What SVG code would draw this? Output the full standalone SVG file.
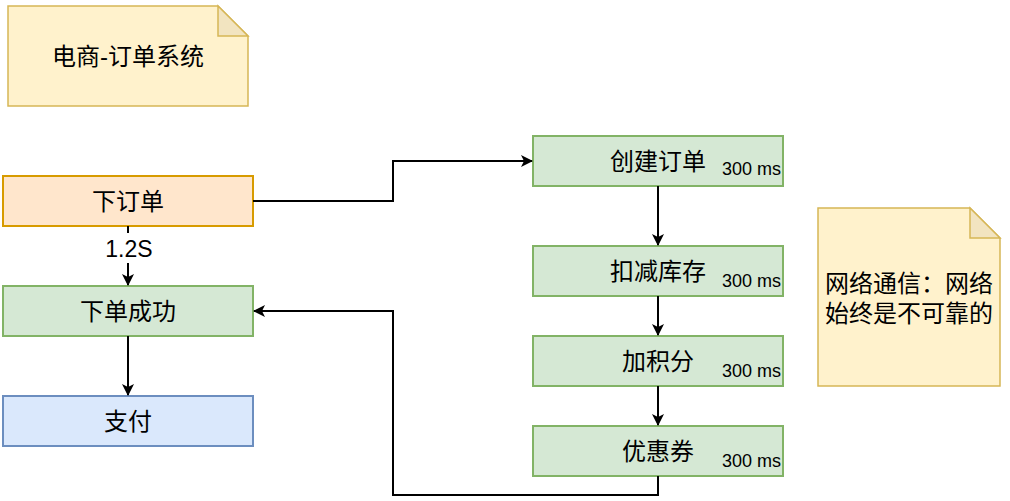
<svg xmlns="http://www.w3.org/2000/svg" width="1010" height="501" viewBox="0 0 1010 501">
<style>
text{font-family:"Liberation Sans","Noto Sans CJK SC",sans-serif;fill:#000}
.t{font-size:24px;text-anchor:middle;dominant-baseline:central}
.ms{font-size:18px;text-anchor:end}
.lbl{font-size:23px;text-anchor:middle;dominant-baseline:central}
.green{fill:#d5e8d4;stroke:#82b366;stroke-width:2}
.note{fill:#fff2cc;stroke:#d6b656;stroke-width:1.5}
.fold{fill:#f2e4c0;stroke:#d6b656;stroke-width:1.5}
.c{fill:none;stroke:#000;stroke-width:2}
</style>
<defs>
<marker id="arr" viewBox="0 0 12 12" refX="11" refY="6" markerWidth="12" markerHeight="12" markerUnits="userSpaceOnUse" orient="auto">
<path d="M0,0 L12,6 L0,12 L3,6 Z" fill="#000"/>
</marker>
</defs>
<g id="note-title">
<path class="note" d="M8,6 H218 L248,36 V106 H8 Z"/>
<path class="fold" d="M218,6 V36 H248 Z"/>
<text class="t" x="128" y="56">电商-订单系统</text>
</g>
<g id="note-network">
<path class="note" d="M818,208 H970 L1000,238 V386 H818 Z"/>
<path class="fold" d="M970,208 V238 H1000 Z"/>
<text class="t" x="909" y="283">网络通信：网络</text>
<text class="t" x="909" y="313">始终是不可靠的</text>
</g>
<g id="xiadingdan">
<rect x="3" y="176" width="250" height="50" fill="#ffe6cc" stroke="#d79b00" stroke-width="2"/>
<text class="t" x="128" y="201">下订单</text>
</g>
<g id="xiadanchenggong">
<rect class="green" x="3" y="286" width="250" height="50"/>
<text class="t" x="128" y="311">下单成功</text>
</g>
<g id="zhifu">
<rect x="3" y="396" width="250" height="50" fill="#dae8fc" stroke="#6c8ebf" stroke-width="2"/>
<text class="t" x="128" y="421">支付</text>
</g>
<g id="chuangjiandingdan">
<rect class="green" x="533" y="136" width="250" height="50"/>
<text class="t" x="658" y="161">创建订单</text>
<text class="ms" x="781" y="175">300 ms</text>
</g>
<g id="koujiankucun">
<rect class="green" x="533" y="246" width="250" height="50"/>
<text class="t" x="658" y="271">扣减库存</text>
<text class="ms" x="781" y="287">300 ms</text>
</g>
<g id="jiajifen">
<rect class="green" x="533" y="336" width="250" height="50"/>
<text class="t" x="658" y="361">加积分</text>
<text class="ms" x="781" y="377">300 ms</text>
</g>
<g id="youhuiquan">
<rect class="green" x="533" y="426" width="250" height="50"/>
<text class="t" x="658" y="451">优惠券</text>
<text class="ms" x="781" y="467">300 ms</text>
</g>
<g id="connectors">
<path class="c" d="M253,201 H393 V161 H532" marker-end="url(#arr)"/>
<path class="c" d="M128,226 V285" marker-end="url(#arr)"/>
<rect x="102" y="233" width="52" height="30" fill="#fff"/>
<text class="lbl" x="129" y="249">1.2S</text>
<path class="c" d="M128,336 V395" marker-end="url(#arr)"/>
<path class="c" d="M658,186 V245" marker-end="url(#arr)"/>
<path class="c" d="M658,296 V335" marker-end="url(#arr)"/>
<path class="c" d="M658,386 V425" marker-end="url(#arr)"/>
<path class="c" d="M658,476 V495 H393 V311 H254" marker-end="url(#arr)"/>
</g>
</svg>
